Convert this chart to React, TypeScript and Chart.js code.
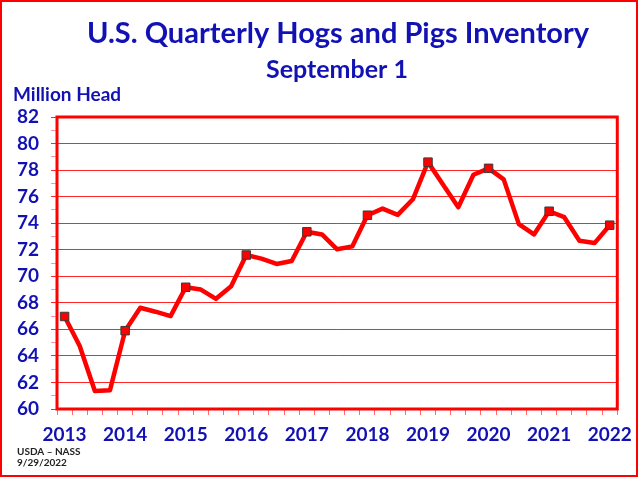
import React, { useEffect, useRef } from "react";
import { Chart, registerables } from "chart.js";

Chart.register(...registerables);

const quarters = [
  "Sep 2013", "Dec 2013", "Mar 2014", "Jun 2014",
  "Sep 2014", "Dec 2014", "Mar 2015", "Jun 2015",
  "Sep 2015", "Dec 2015", "Mar 2016", "Jun 2016",
  "Sep 2016", "Dec 2016", "Mar 2017", "Jun 2017",
  "Sep 2017", "Dec 2017", "Mar 2018", "Jun 2018",
  "Sep 2018", "Dec 2018", "Mar 2019", "Jun 2019",
  "Sep 2019", "Dec 2019", "Mar 2020", "Jun 2020",
  "Sep 2020", "Dec 2020", "Mar 2021", "Jun 2021",
  "Sep 2021", "Dec 2021", "Mar 2022", "Jun 2022",
  "Sep 2022",
];

const yearLabels = ["2013", "2014", "2015", "2016", "2017", "2018", "2019", "2020", "2021", "2022"];

const inventory = [
  66.97, 64.75, 61.35, 61.42,
  65.9, 67.63, 67.33, 67.0,
  69.17, 69.0, 68.3, 69.25,
  71.6, 71.33, 70.93, 71.15,
  73.35, 73.15, 72.03, 72.25,
  74.6, 75.1, 74.63, 75.8,
  78.6, 76.9, 75.2, 77.65,
  78.13, 77.3, 73.93, 73.15,
  74.9, 74.45, 72.68, 72.5,
  73.85,
];

const yMin = 60;
const yMax = 82;

const title = "U.S. Quarterly Hogs and Pigs Inventory";
const subtitle = "September 1";
const unitLabel = "Million Head";
const sourceLine1 = "USDA \u2013 NASS";
const sourceLine2 = "9/29/2022";

const BLUE = "#1212B4";
const RED = "#FF0000";
const FONT = "Lato, 'Open Sans', sans-serif";

const decorPlugin = {
  id: "decor",
  beforeDraw(chart: any) {
    const ctx = chart.ctx;
    ctx.save();
    ctx.fillStyle = "#FFFFFF";
    ctx.fillRect(0, 0, chart.width, chart.height);
    ctx.restore();
  },
  afterDraw(chart: any) {
    const ctx = chart.ctx;
    const a = chart.chartArea;
    ctx.save();
    // plot border
    ctx.strokeStyle = RED;
    ctx.lineWidth = 3;
    ctx.strokeRect(a.left, a.top, a.right - a.left, a.bottom - a.top);
    // outer border
    ctx.lineWidth = 2;
    ctx.strokeRect(1, 1, 636, 475);
    // titles
    ctx.fillStyle = BLUE;
    ctx.textAlign = "center";
    ctx.textBaseline = "middle";
    ctx.font = `bold 29px ${FONT}`;
    ctx.fillText(title, 338, 34);
    ctx.font = `bold 25px ${FONT}`;
    ctx.fillText(subtitle, 337, 70);
    ctx.textAlign = "left";
    ctx.font = `bold 19px ${FONT}`;
    ctx.fillText(unitLabel, 13, 95);
    ctx.fillStyle = "#222222";
    ctx.font = `bold 10px ${FONT}`;
    ctx.fillText(sourceLine1, 17, 452);
    ctx.fillText(sourceLine2, 17, 463);
    ctx.restore();
  },
};

export default function App() {
  const canvasRef = useRef<HTMLCanvasElement | null>(null);

  useEffect(() => {
    const canvas = canvasRef.current;
    if (!canvas) return;
    const chart = new Chart(canvas, {
      type: "line",
      data: {
        labels: quarters,
        datasets: [
          {
            label: "Inventory",
            data: inventory,
            borderColor: RED,
            borderWidth: 4.5,
            tension: 0,
            borderJoinStyle: "round",
            borderCapStyle: "round",
            pointStyle: "rect",
            pointRadius: (c: any) => (c.dataIndex % 4 === 0 ? 6 : 0),
            pointHoverRadius: (c: any) => (c.dataIndex % 4 === 0 ? 6 : 0),
            pointBackgroundColor: RED,
            pointBorderColor: "#3A3A3A",
            pointBorderWidth: 1,
          },
        ],
      },
      options: {
        responsive: false,
        animation: false,
        layout: { padding: { left: 0, right: 19, top: 117, bottom: 31 } },
        plugins: {
          legend: { display: false },
          tooltip: { enabled: false },
          title: { display: false },
        },
        scales: {
          x: {
            type: "category",
            offset: true,
            afterFit: (s: any) => {
              s.height = 40;
            },
            border: { display: false },
            grid: {
              offset: true,
              drawOnChartArea: false,
              drawTicks: true,
              tickLength: 6,
              color: "rgba(255,60,60,0.75)",
              lineWidth: 1,
            },
            ticks: {
              autoSkip: false,
              maxRotation: 0,
              minRotation: 0,
              padding: 8,
              color: BLUE,
              font: { family: FONT, size: 19, weight: "bold" },
              callback: (_v: any, i: number) => (i % 4 === 0 ? yearLabels[i / 4] : ""),
            },
          },
          y: {
            min: yMin,
            max: yMax,
            afterFit: (s: any) => {
              s.width = 57;
            },
            border: { display: false },
            grid: {
              drawTicks: true,
              tickLength: 6,
              lineWidth: 1,
              color: (c: any) =>
                c.tick && c.tick.value % 2 === 0 ? "rgba(255,0,0,0.85)" : "rgba(0,0,0,0)",
              tickColor: (c: any) =>
                c.tick && c.tick.value % 2 === 0 ? "rgba(255,0,0,0.85)" : "rgba(255,80,80,0.6)",
            },
            ticks: {
              stepSize: 1,
              autoSkip: false,
              padding: 12,
              color: BLUE,
              font: { family: FONT, size: 19, weight: "bold" },
              callback: (v: any) => (Number(v) % 2 === 0 ? String(v) : ""),
            },
          },
        },
      },
      plugins: [decorPlugin],
    } as any);
    return () => chart.destroy();
  }, []);

  return (
    <div style={{ position: "fixed", left: 0, top: 0, width: 640, height: 480, background: "#fff" }}>
      <canvas ref={canvasRef} width={640} height={480} style={{ display: "block", width: 640, height: 480 }} />
    </div>
  );
}
